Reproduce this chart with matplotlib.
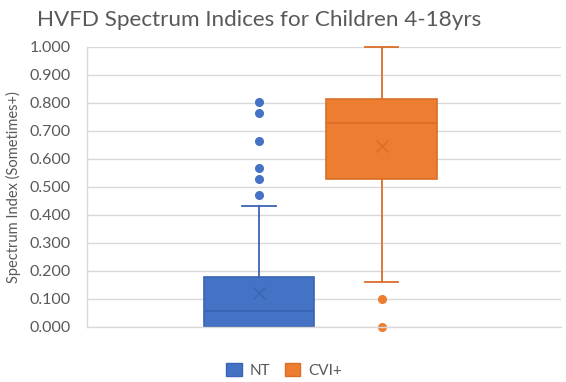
import matplotlib
matplotlib.use("Agg")
import matplotlib.pyplot as plt
from matplotlib.patches import Patch

plt.rcParams['font.family'] = ['Lato', 'DejaVu Sans']

# data
groups = ["NT", "CVI+"]
q1 = [0.000, 0.530]
median = [0.057, 0.727]
q3 = [0.179, 0.813]
mean = [0.121, 0.645]
whisker_low = [0.000, 0.161]
whisker_high = [0.432, 1.000]
outliers = [
    [0.470, 0.529, 0.569, 0.665, 0.763, 0.802],
    [0.000, 0.099],
]
yticks = [0.0, 0.1, 0.2, 0.3, 0.4, 0.5, 0.6, 0.7, 0.8, 0.9, 1.0]

fills = ["#4472C4", "#ED7D31"]
edges = ["#3A64B4", "#D86E28"]
positions = [0.363, 0.622]

fig = plt.figure(figsize=(5.66, 3.82), dpi=100)
ax = fig.add_axes([0.1537, 0.144, 0.8373, 0.733])

for i, g in enumerate(groups):
    stats = [{
        "label": g, "q1": q1[i], "med": median[i], "q3": q3[i], "mean": mean[i],
        "whislo": whisker_low[i], "whishi": whisker_high[i], "fliers": outliers[i],
    }]
    art = ax.bxp(stats, positions=[positions[i]], widths=0.234, patch_artist=True,
                 showmeans=True, manage_ticks=False,
                 boxprops=dict(facecolor=fills[i], edgecolor=edges[i], linewidth=1.2),
                 medianprops=dict(color=edges[i], linewidth=1.3),
                 whiskerprops=dict(color=edges[i], linewidth=1.3),
                 capprops=dict(color=edges[i], linewidth=1.3),
                 capwidths=0.07,
                 meanprops=dict(marker="x", markeredgecolor=edges[i], markersize=9,
                                markeredgewidth=1.0),
                 flierprops=dict(marker="o", markerfacecolor=fills[i],
                                 markeredgecolor=fills[i], markersize=5.5))
    for key in ["caps", "whiskers", "fliers", "boxes"]:
        for a in art[key]:
            a.set_clip_on(False)

ax.set_xlim(0, 1)
ax.set_ylim(0, 1.0)
ax.set_yticks(yticks)
ax.set_yticklabels([f"{v:.3f}" for v in yticks])
ax.set_xticks([])
ax.yaxis.grid(True, color="#D9D9D9", linewidth=1.0)
ax.set_axisbelow(True)
ax.tick_params(axis="y", length=0, pad=12, labelsize=11.5, labelcolor="#595959")
for side in ["top", "right"]:
    ax.spines[side].set_visible(False)
for side in ["left", "bottom"]:
    ax.spines[side].set_color("#D9D9D9")
    ax.spines[side].set_linewidth(1.0)

ax.set_ylabel("Spectrum Index (Sometimes+)", fontsize=10.5, color="#595959", labelpad=6)
fig.text(0.458, 0.948, "HVFD Spectrum Indices for Children 4-18yrs",
         ha="center", va="center", fontsize=16.2, color="#595959")

handles = [Patch(facecolor=fills[i], edgecolor=edges[i], label=groups[i]) for i in range(2)]
fig.legend(handles=handles, loc="center", bbox_to_anchor=(0.502, 0.031), ncol=2,
           frameon=False, fontsize=11, handlelength=1.0, handleheight=1.0,
           handletextpad=0.5, columnspacing=1.0, labelcolor="#595959")

fig.savefig("out.png", dpi=100, facecolor="white")
